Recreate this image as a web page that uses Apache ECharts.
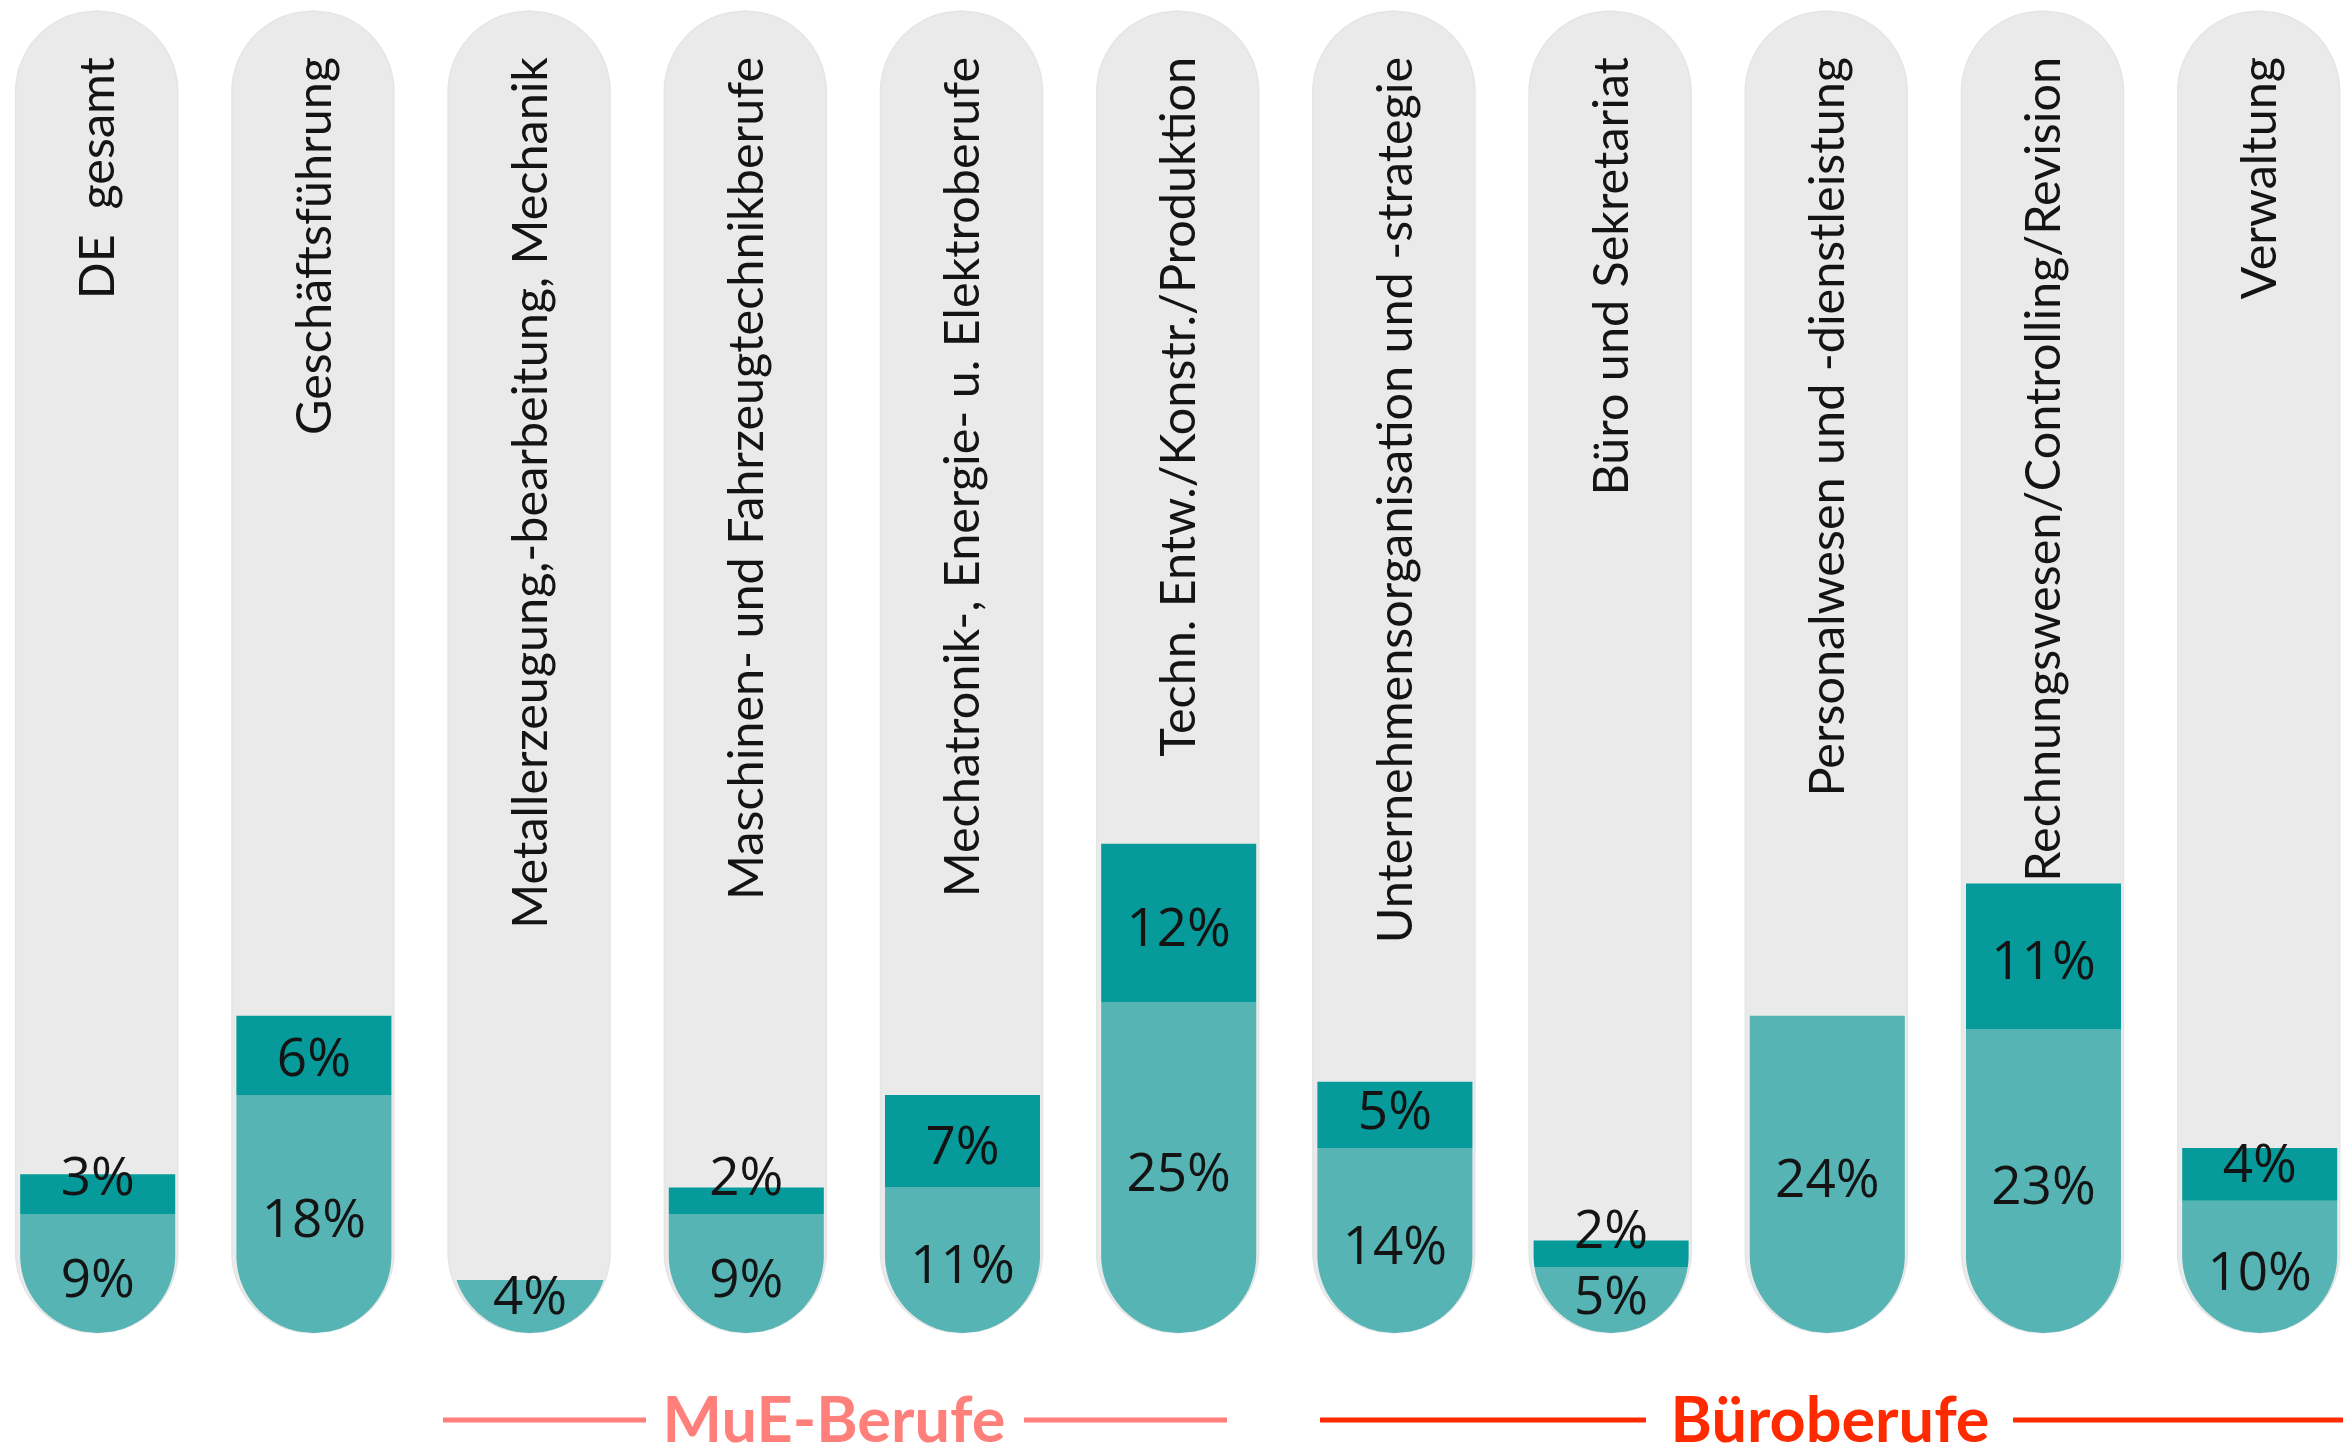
<!DOCTYPE html>
<html>
<head>
<meta charset="utf-8">
<title>Anteile nach Berufsgruppen</title>
<script src="https://cdn.jsdelivr.net/npm/echarts@6/dist/echarts.min.js"></script>
<style>
  html, body { margin: 0; padding: 0; background: #ffffff; }
  #chart { width: 2347px; height: 1447px; }
</style>
</head>
<body>
<div id="chart"></div>
<script>
// Berufsgruppen (one capsule each)
const categories = [
  'DE  gesamt',
  'Geschäftsführung',
  'Metallerzeugung,-bearbeitung, Mechanik',
  'Maschinen- und Fahrzeugtechnikberufe',
  'Mechatronik-, Energie- u. Elektroberufe',
  'Techn. Entw./Konstr./Produktion',
  'Unternehmensorganisation und -strategie',
  'Büro und Sekretariat',
  'Personalwesen und -dienstleistung',
  'Rechnungswesen/Controlling/Revision',
  'Verwaltung'
];

// lower (light teal) and upper (dark teal) shares in percent
const lowerShare = [9, 18, 4, 9, 11, 25, 14, 5, 24, 23, 10];
const upperShare = [3, 6, 0, 2, 7, 12, 5, 2, 0, 11, 4];

// full height of each capsule
const scaleMax = 100;

const COLORS = {
  capsule: '#EAEAEA',
  capsuleEdge: '#E5E5E5',
  lower: '#56B4B5',
  upper: '#069A9A',
  text: '#141414',
  groupMuE: '#FF7F7B',
  groupBuero: '#FF2A00'
};

const CAPSULE_RATIO = 0.3747;  // half width of the grey capsule, relative to the band
const BAR_RATIO = 0.3585;      // half width of the coloured fill, relative to the band

// half width of a capsule at a given pixel row (round bottom, optional round top)
function halfWidthAt(y, half, yBottomCentre, yTopCentre) {
  if (y > yBottomCentre) {
    const d = y - yBottomCentre;
    return Math.sqrt(Math.max(half * half - d * d, 0));
  }
  if (yTopCentre != null && y < yTopCentre) {
    const d = yTopCentre - y;
    return Math.sqrt(Math.max(half * half - d * d, 0));
  }
  return half;
}

// polygon of the capsule part between pixel rows yTop and yBot
function capsuleSlice(cx, half, yTop, yBot, yBase, yCeil) {
  const yb = yBase - half;
  const yt = yCeil == null ? null : yCeil + half;
  const rows = [yTop, yBot];
  const addCurve = (a, b) => {
    const lo = Math.max(a, yTop), hi = Math.min(b, yBot);
    if (hi <= lo) return;
    const n = 48;
    for (let k = 0; k <= n; k++) rows.push(lo + (hi - lo) * k / n);
  };
  addCurve(yb, yBase);
  if (yt != null) addCurve(yCeil, yt);
  if (yb > yTop && yb < yBot) rows.push(yb);
  if (yt != null && yt > yTop && yt < yBot) rows.push(yt);
  const ys = Array.from(new Set(rows)).sort((a, b) => a - b);
  const pts = [];
  ys.forEach(y => pts.push([cx + halfWidthAt(y, half, yb, yt), y]));
  for (let k = ys.length - 1; k >= 0; k--) {
    const y = ys[k];
    pts.push([cx - halfWidthAt(y, half, yb, yt), y]);
  }
  return pts;
}

const capsuleData = categories.map((c, i) => [i, scaleMax]);
const lowerData = lowerShare.map((v, i) => [i, 0, v]);
const upperData = upperShare.map((v, i) => [i, lowerShare[i], lowerShare[i] + v]);

function renderCapsule(params, api) {
  const i = api.value(0);
  const base = api.coord([i, 0]);
  const top = api.coord([i, api.value(1)]);
  const half = api.size([1, 0])[0] * CAPSULE_RATIO;
  const pts = capsuleSlice(base[0], half, top[1], base[1], base[1], top[1]);
  return {
    type: 'group',
    children: [
      {
        type: 'polygon',
        shape: { points: pts },
        style: { fill: COLORS.capsule, stroke: COLORS.capsuleEdge, lineWidth: 1.5 }
      },
      {
        type: 'text',
        x: base[0] + 2,
        y: top[1] + 46,
        rotation: Math.PI / 2,
        style: {
          text: categories[i],
          fontFamily: 'Lato',
          fontSize: 48.5,
          fill: COLORS.text,
          align: 'right',
          verticalAlign: 'middle'
        }
      }
    ]
  };
}

function segmentRenderer(fill) {
  return function (params, api) {
    const i = api.value(0);
    const from = api.value(1);
    const to = api.value(2);
    const share = to - from;
    if (!(share > 0)) return null;
    const base = api.coord([i, 0]);
    const cx = base[0] + 1;
    const yBot = api.coord([i, from])[1];
    const yTop = api.coord([i, to])[1];
    const half = api.size([1, 0])[0] * BAR_RATIO;
    const pts = capsuleSlice(cx, half, yTop, yBot, base[1], null);
    // small slices keep their label clear of the slice below
    const labelY = Math.min((yTop + yBot) / 2 + 8, yBot - 34);
    return {
      type: 'group',
      children: [
        { type: 'polygon', shape: { points: pts }, style: { fill: fill } },
        {
          type: 'text',
          x: cx,
          y: labelY,
          z2: 10,
          style: {
            text: share + '%',
            fontFamily: 'Open Sans',
            fontSize: 53,
            fill: COLORS.text,
            align: 'center',
            verticalAlign: 'middle'
          }
        }
      ]
    };
  };
}

const chart = echarts.init(document.getElementById('chart'), null, { renderer: 'canvas' });

chart.setOption({
  animation: false,
  backgroundColor: '#ffffff',
  grid: { left: 96.7, right: 88.3, top: 11, bottom: 114, containLabel: false },
  xAxis: {
    type: 'category',
    data: categories,
    boundaryGap: false,
    show: false
  },
  yAxis: {
    type: 'value',
    min: 0,
    max: scaleMax,
    show: false,
    splitLine: { show: false }
  },
  series: [
    {
      name: 'Hintergrund',
      type: 'custom',
      renderItem: renderCapsule,
      data: capsuleData,
      encode: { x: 0, y: 1 },
      clip: false,
      z: 1
    },
    {
      name: 'Anteil unten',
      type: 'custom',
      renderItem: segmentRenderer(COLORS.lower),
      data: lowerData,
      encode: { x: 0, y: [1, 2] },
      clip: false,
      z: 2
    },
    {
      name: 'Anteil oben',
      type: 'custom',
      renderItem: segmentRenderer(COLORS.upper),
      data: upperData,
      encode: { x: 0, y: [1, 2] },
      clip: false,
      z: 3
    }
  ],
  graphic: [
    { type: 'line', shape: { x1: 443, y1: 1420, x2: 646, y2: 1420 }, style: { stroke: COLORS.groupMuE, lineWidth: 5 } },
    { type: 'line', shape: { x1: 1024, y1: 1420, x2: 1227, y2: 1420 }, style: { stroke: COLORS.groupMuE, lineWidth: 5 } },
    {
      type: 'text', x: 834, y: 1422,
      style: { text: 'MuE-Berufe', fontFamily: 'Lato', fontWeight: 'bold', fontSize: 63, fill: COLORS.groupMuE, align: 'center', verticalAlign: 'middle' }
    },
    { type: 'line', shape: { x1: 1320, y1: 1420, x2: 1646, y2: 1420 }, style: { stroke: COLORS.groupBuero, lineWidth: 5 } },
    { type: 'line', shape: { x1: 2013, y1: 1420, x2: 2343, y2: 1420 }, style: { stroke: COLORS.groupBuero, lineWidth: 5 } },
    {
      type: 'text', x: 1830, y: 1422,
      style: { text: 'Büroberufe', fontFamily: 'Lato', fontWeight: 'bold', fontSize: 63, fill: COLORS.groupBuero, align: 'center', verticalAlign: 'middle' }
    }
  ]
});
</script>
</body>
</html>
